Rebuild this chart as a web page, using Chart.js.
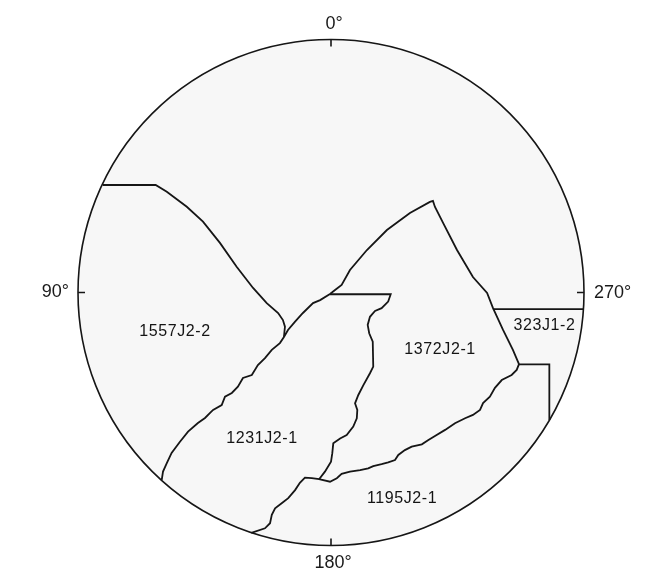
<!DOCTYPE html>
<html>
<head>
<meta charset="utf-8">
<script src="https://cdn.jsdelivr.net/npm/chart.js@4/dist/chart.umd.min.js"></script>
<style>
  html, body { margin: 0; padding: 0; background: #ffffff; }
  #wrap { position: relative; width: 670px; height: 574px; }
</style>
</head>
<body>
<div id="wrap"><canvas id="net"></canvas></div>
<script>
// Boundary traces, in net units (circle radius = 100, centre = 0,0)
const edge1557 = [
    [-90.2, 42.5], [-69.3, 42.5], [-64.9, 39.8], [-57.0, 33.9], [-50.6, 28.0],
    [-43.9, 19.6], [-37.3, 10.2], [-30.8, 1.8], [-25.4, -4.2], [-20.9, -8.1],
    [-19.0, -10.9], [-18.2, -13.5], [-18.6, -17.6]
];
const edge1231Peak = [
    [-66.9, -74.1], [-66.4, -70.8], [-64.9, -67.4], [-63.0, -63.4], [-59.7, -59.0],
    [-56.5, -55.0], [-52.6, -51.6], [-49.8, -49.6], [-47.8, -47.6], [-46.6, -46.4],
    [-43.2, -44.5], [-41.9, -41.2], [-39.2, -39.7], [-36.8, -37.2], [-34.8, -33.8],
    [-31.3, -32.6], [-28.9, -28.7], [-26.1, -25.9], [-23.4, -22.7], [-20.2, -20.0],
    [-18.6, -17.6], [-17.0, -14.8], [-14.2, -11.5], [-11.1, -8.1], [-7.1, -4.2],
    [-4.3, -3.0], [-0.4, -0.6], [1.6, 1.0], [4.2, 3.0], [7.5, 8.9], [14.2, 16.8],
    [22.1, 24.7], [31.2, 31.4], [39.1, 35.8], [40.3, 36.2], [41.1, 33.8],
    [44.3, 27.5], [49.8, 16.8], [56.1, 6.1], [61.7, -0.2], [64.0, -6.1],
    [68.0, -14.8], [71.9, -22.7], [74.3, -28.3]
];
const edge1372West = [
    [-0.4, -0.7], [23.6, -0.7], [22.6, -3.6], [20.0, -6.2], [17.4, -7.3],
    [15.4, -9.6], [14.5, -12.8], [15.1, -16.1], [16.5, -19.4], [16.7, -29.3],
    [15.4, -31.9], [12.8, -36.6], [10.8, -40.5], [9.5, -43.8], [10.4, -46.4],
    [10.2, -49.7], [8.8, -53.0], [6.2, -56.3], [3.6, -57.7], [0.9, -59.6],
    [0.5, -63.6], [0.0, -66.9], [-2.4, -70.8], [-4.7, -73.8]
];
const edge1195 = [
    [-31.5, -95.0], [-26.1, -93.2], [-24.1, -91.2], [-23.4, -87.9], [-22.1, -85.3],
    [-19.5, -83.3], [-16.9, -81.3], [-14.2, -78.1], [-12.3, -75.2], [-10.3, -73.2],
    [-7.6, -73.4], [-4.7, -73.8], [-0.4, -74.8], [2.3, -73.4], [4.2, -71.7],
    [7.5, -70.8], [11.5, -70.2], [14.7, -69.5], [16.7, -68.6], [20.0, -67.8],
    [22.6, -67.1], [25.3, -66.2], [26.6, -64.2], [29.2, -62.3], [31.9, -60.9],
    [35.9, -60.0], [38.5, -58.3], [41.1, -56.7], [45.1, -54.3], [49.0, -51.7],
    [53.0, -49.7], [56.1, -48.4], [58.9, -46.4], [60.1, -43.7], [62.8, -41.2],
    [64.8, -37.7], [67.5, -34.6], [71.4, -32.6], [73.4, -30.6], [74.3, -28.3]
];
const edge323 = [[64.0, -6.6], [99.8, -6.6]];
const edgeBox = [[74.3, -28.4], [86.3, -28.4], [86.3, -50.4]];

// Region labels
const regionNames = ['1557J2-2', '1372J2-1', '323J1-2', '1231J2-1', '1195J2-1'];
const regionX = [-61.7, 43.1, 84.4, -27.3, 28.1];
const regionY = [-15.6, -22.7, -13.0, -57.9, -81.6];

// Azimuth labels: top, left, bottom, right
const azimuthLabels = ['0°', '90°', '180°', '270°'];

const boundaries = [edge1557, edge1231Peak, edge1372West, edge1195, edge323, edgeBox];
const lineColor = '#161616';

// Draws the net circle, its ticks and the azimuth / region labels
const netPlugin = {
    id: 'net',
    beforeDatasetsDraw(chart) {
        const { ctx, scales } = chart;
        const cx = scales.x.getPixelForValue(0);
        const cy = scales.y.getPixelForValue(0);
        const rx = scales.x.getPixelForValue(100) - cx;
        const ry = cy - scales.y.getPixelForValue(100);

        ctx.save();
        ctx.beginPath();
        ctx.ellipse(cx, cy, rx, ry, 0, 0, Math.PI * 2);
        ctx.fillStyle = '#f7f7f7';
        ctx.fill();
        ctx.lineWidth = 1.6;
        ctx.strokeStyle = lineColor;
        ctx.stroke();

        // ticks
        const t = 7;
        ctx.beginPath();
        ctx.moveTo(cx, cy - ry); ctx.lineTo(cx, cy - ry + t);
        ctx.moveTo(cx, cy + ry); ctx.lineTo(cx, cy + ry - t);
        ctx.moveTo(cx - rx, cy); ctx.lineTo(cx - rx + t, cy);
        ctx.moveTo(cx + rx, cy); ctx.lineTo(cx + rx - t, cy);
        ctx.stroke();

        ctx.fillStyle = '#1a1a1a';
        ctx.font = '18px "Liberation Sans", Arial, sans-serif';
        ctx.textBaseline = 'middle';
        ctx.textAlign = 'center';
        ctx.fillText(azimuthLabels[0], cx + 3, cy - ry - 15);
        ctx.fillText(azimuthLabels[2], cx + 2, cy + ry + 18);
        ctx.textAlign = 'right';
        ctx.fillText(azimuthLabels[1], cx - rx - 9, cy);
        ctx.textAlign = 'left';
        ctx.fillText(azimuthLabels[3], cx + rx + 10, cy + 1);
        ctx.restore();
    },
    afterDatasetsDraw(chart) {
        const { ctx, scales } = chart;
        ctx.save();
        ctx.fillStyle = '#141414';
        ctx.font = '16px "Liberation Sans", Arial, sans-serif';
        ctx.letterSpacing = '0.6px';
        ctx.textAlign = 'center';
        ctx.textBaseline = 'middle';
        regionNames.forEach((name, i) => {
            ctx.fillText(name, scales.x.getPixelForValue(regionX[i]), scales.y.getPixelForValue(regionY[i]));
        });
        ctx.restore();
    }
};

new Chart(document.getElementById('net'), {
    type: 'scatter',
    data: {
        datasets: boundaries.map(pts => ({
            data: pts.map(p => ({ x: p[0], y: p[1] })),
            showLine: true,
            borderColor: lineColor,
            borderWidth: 1.8,
            pointRadius: 0,
            fill: false,
            tension: 0
        }))
    },
    options: {
        responsive: true,
        maintainAspectRatio: false,
        animation: false,
        layout: { padding: { left: 78, right: 86, top: 39.5, bottom: 28.5 } },
        plugins: {
            legend: { display: false },
            tooltip: { enabled: false }
        },
        scales: {
            x: { type: 'linear', min: -100, max: 100, display: false },
            y: { type: 'linear', min: -100, max: 100, display: false }
        }
    },
    plugins: [netPlugin]
});
</script>
</body>
</html>
